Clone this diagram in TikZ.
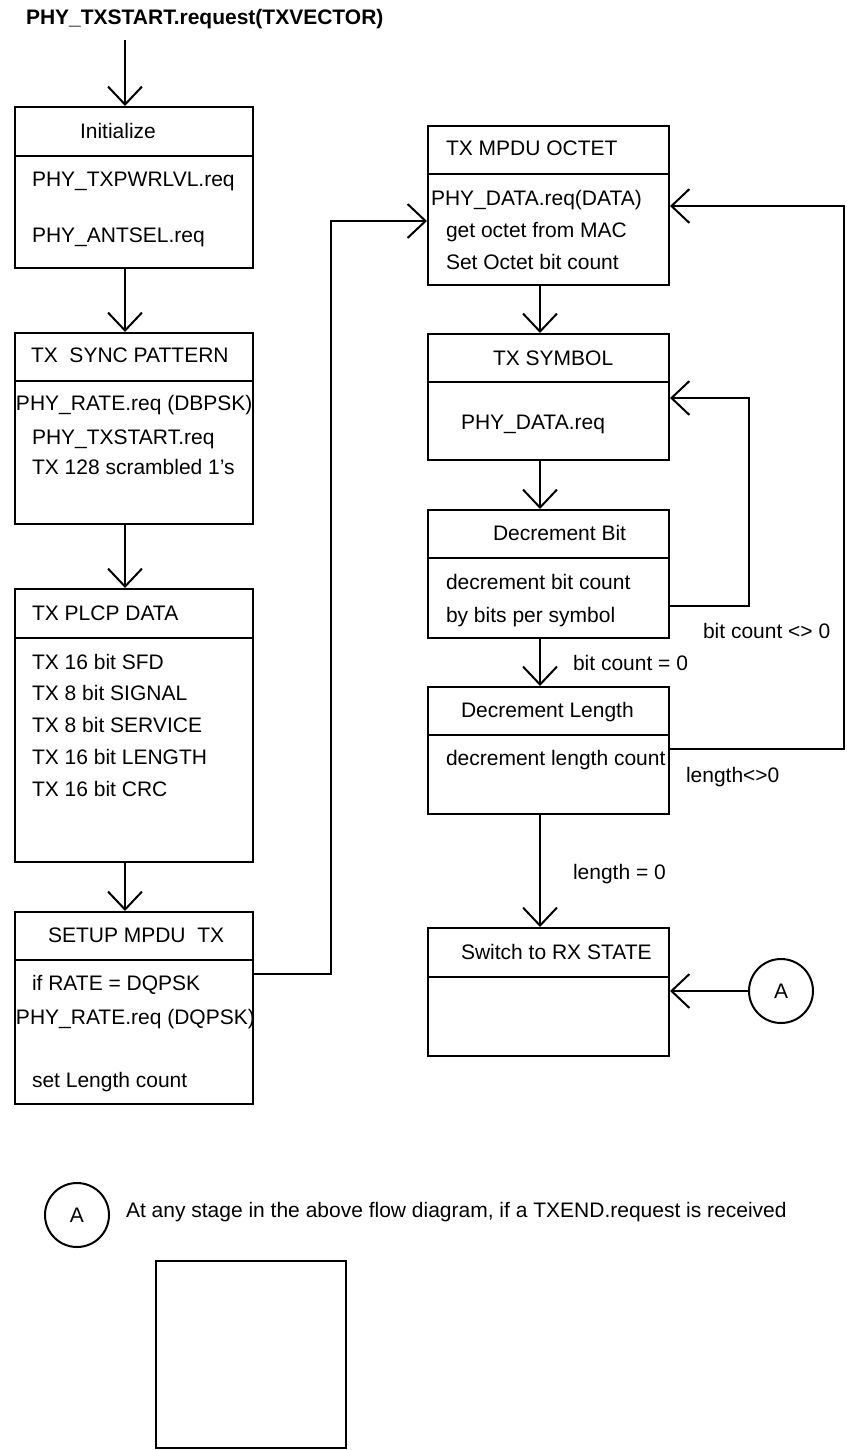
\documentclass[tikz,border=0pt]{standalone}
\usepackage{fontspec}
\setmainfont{Liberation Sans}
\usetikzlibrary{arrows.meta}

\tikzset{
  box/.style={draw, rectangle, minimum width=238pt, anchor=north west, inner sep=0pt},
  rbox/.style={box, minimum width=241pt},
  txt/.style={anchor=base west, inner sep=0pt},
  flow/.style={-{Straight Barb[length=18pt,width=34pt]}},
  conn/.style={circle, draw, minimum size=64pt, inner sep=0pt}
}

\begin{document}
\begin{tikzpicture}[x=1pt, y=-1pt, line width=2pt, font=\fontsize{21}{25}\selectfont]
			\useasboundingbox (0,0) rectangle (846,1450);
			% columns
			\coordinate (colL) at (125,0);
			\coordinate (colR) at (540,0);
			
			% title and start
			\node[txt, font=\fontsize{21}{25}\selectfont\bfseries] (title) at (25,25) {PHY\_TXSTART.request(TXVECTOR)};
			\coordinate (start) at (125,40);
			
			% left column
			\node[box, minimum height=49pt] (init) at (14,106) {};
			\node[box, minimum height=112pt] (initB) at (14,155) {};
			\node[txt] (initT) at (79,139) {Initialize};
			\node[txt] (initL1) at (31,187) {PHY\_TXPWRLVL.req};
			\node[txt] (initL2) at (31,242) {PHY\_ANTSEL.req};
			
			\node[box, minimum height=48pt] (sync) at (14,332) {};
			\node[box, minimum height=143pt] (syncB) at (14,380) {};
			\node[txt] (syncT) at (30,362) {TX\ \ SYNC PATTERN};
			\node[txt] (syncL1) at (15,410) {PHY\_RATE.req (DBPSK)};
			\node[txt] (syncL2) at (31,444) {PHY\_TXSTART.req};
			\node[txt] (syncL3) at (31,474) {TX 128 scrambled 1's};
			
			\node[box, minimum height=49pt] (plcp) at (14,588) {};
			\node[box, minimum height=224pt] (plcpB) at (14,637) {};
			\node[txt] (plcpT) at (31,620) {TX PLCP DATA};
			\node[txt] (plcpL1) at (31,669) {TX 16 bit SFD};
			\node[txt] (plcpL2) at (31,700) {TX 8 bit SIGNAL};
			\node[txt] (plcpL3) at (31,732) {TX 8 bit SERVICE};
			\node[txt] (plcpL4) at (31,764) {TX 16 bit LENGTH};
			\node[txt] (plcpL5) at (31,796) {TX 16 bit CRC};
			
			\node[box, minimum height=48pt] (setup) at (14,911) {};
			\node[box, minimum height=144pt] (setupB) at (14,959) {};
			\node[txt] (setupT) at (47,942) {SETUP MPDU\ \ TX};
			\node[txt] (setupL1) at (31,990) {if RATE = DQPSK};
			\node[txt] (setupL2) at (15,1024) {PHY\_RATE.req (DQPSK)};
			\node[txt] (setupL3) at (31,1087) {set Length count};
			
			% right column
			\node[rbox, minimum height=48pt] (octet) at (427,125) {};
			\node[rbox, minimum height=111pt] (octetB) at (427,173) {};
			\node[txt] (octetT) at (445,156) {TX MPDU OCTET};
			\node[txt] (octetL1) at (430,205) {PHY\_DATA.req(DATA)};
			\node[txt] (octetL2) at (445,237) {get octet from MAC};
			\node[txt] (octetL3) at (445,269) {Set Octet bit count};
			
			\node[rbox, minimum height=48pt] (symbol) at (427,333) {};
			\node[rbox, minimum height=78pt] (symbolB) at (427,381) {};
			\node[txt] (symbolT) at (492,365) {TX SYMBOL};
			\node[txt] (symbolL1) at (460,429) {PHY\_DATA.req};
			
			\node[rbox, minimum height=48pt] (decbit) at (427,509) {};
			\node[rbox, minimum height=80pt] (decbitB) at (427,557) {};
			\node[txt] (decbitT) at (492,540) {Decrement Bit};
			\node[txt] (decbitL1) at (445,589) {decrement bit count};
			\node[txt] (decbitL2) at (445,622) {by bits per symbol};
			
			\node[rbox, minimum height=48pt] (declen) at (427,686) {};
			\node[rbox, minimum height=79pt] (declenB) at (427,734) {};
			\node[txt] (declenT) at (460,717) {Decrement Length};
			\node[txt] (declenL1) at (445,765) {decrement length count};
			
			\node[rbox, minimum height=49pt] (switch) at (427,927) {};
			\node[rbox, minimum height=79pt] (switchB) at (427,976) {};
			\node[txt] (switchT) at (460,959) {Switch to RX STATE};
			
			\node[conn] (conA) at (781,991) {A};
			
			% labels
			\node[txt] (bitNZ) at (702,638) {bit count <> 0};
			\node[txt] (bitZ) at (572,670) {bit count = 0};
			\node[txt] (lenNZ) at (685,782) {length<>0};
			\node[txt] (lenZ) at (572,879) {length = 0};
			
			% flow down
			\draw[flow] (start) -- (start |- init.north);
			\draw[flow] (initB.south -| colL) -- (sync.north -| colL);
			\draw[flow] (syncB.south -| colL) -- (plcp.north -| colL);
			\draw[flow] (plcpB.south -| colL) -- (setup.north -| colL);
			\draw[flow] (octetB.south -| colR) -- (symbol.north -| colR);
			\draw[flow] (symbolB.south -| colR) -- (decbit.north -| colR);
			\draw[flow] (decbitB.south -| colR) -- (declen.north -| colR);
			\draw[flow] (declenB.south -| colR) -- (switch.north -| colR);
			
			% jumps and loops
			\coordinate (ja) at (331,974);
			\coordinate (jb) at (331,221);
			\draw[flow] (ja -| setupB.east) -- (ja) -- (jb) -- (jb -| octetB.west);
			\coordinate (jc) at (749,606);
			\coordinate (jd) at (749,398);
			\draw[flow] (jc -| decbitB.east) -- (jc) -- (jd) -- (jd -| symbolB.east);
			\coordinate (je) at (844,749);
			\coordinate (jf) at (844,206);
			\draw[flow] (je -| declenB.east) -- (je) -- (jf) -- (jf -| octetB.east);
			\draw[flow] (conA.west) -- (conA.west -| switchB.east);
			
			% key
			\node[conn] (keyA) at (77,1215) {A};
			\node[txt] (keyT) at (125,1217) {At any stage in the above flow diagram, if a TXEND.request is received};
			\node[box, minimum width=190pt, minimum height=187pt] (blank) at (155,1260) {};
		\end{tikzpicture}
\end{document}
